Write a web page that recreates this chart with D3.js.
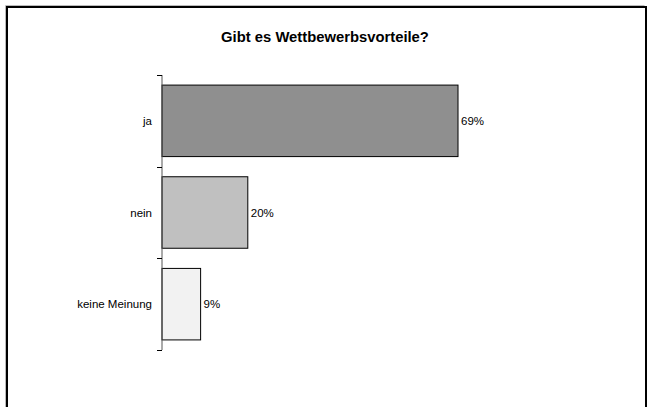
<!DOCTYPE html>
<html><head><meta charset="utf-8">
<script src="https://cdn.jsdelivr.net/npm/d3@7"></script>
<style>body{margin:0;background:#fff}svg{display:block;font-family:"Liberation Sans",Arial,sans-serif}</style>
</head><body>
<script>
const categories = ["ja", "nein", "keine Meinung"];
const values = [69, 20, 9];
const labels = ["69%", "20%", "9%"];
const colors = ["#8f8f8f", "#c0c0c0", "#f2f2f2"];
const title = "Gibt es Wettbewerbsvorteile?";

const W = 649, H = 407;
const svg = d3.select("body").append("svg").attr("width", W).attr("height", H);

// frame
svg.append("path").attr("d", `M7,${H+5}V7H646V${H+5}`).attr("fill","none").attr("stroke","#000").attr("stroke-width",2);
svg.append("path").attr("d", `M5.5,${H+5}V5.5H644.5`).attr("fill","none").attr("stroke","#bbb").attr("stroke-width",1);

svg.append("text").attr("x", 325).attr("y", 42).attr("text-anchor","middle")
  .attr("font-size", 14.8).attr("font-weight","bold").text(title);

const x = d3.scaleLinear().domain([0, 100]).range([162, 591]);
const y = d3.scaleBand().domain(categories).range([75, 350]).paddingInner(0.22).paddingOuter(0.11);

svg.selectAll("rect.bar").data(categories).join("rect").attr("class","bar")
  .attr("x", x(0)).attr("y", d => y(d))
  .attr("width", (d,i) => x(values[i]) - x(0)).attr("height", y.bandwidth())
  .attr("fill", (d,i) => colors[i]).attr("stroke", "#000").attr("stroke-width", 1);

svg.selectAll("text.val").data(categories).join("text").attr("class","val")
  .attr("x", (d,i) => x(values[i]) + 3).attr("y", d => y(d) + y.bandwidth()/2 + 4)
  .attr("font-size", 11.5).text((d,i) => labels[i]);

// axis
const ticks = d3.range(categories.length + 1).map(i => 75 + i * (350 - 75) / categories.length);
svg.append("line").attr("x1", 162).attr("x2", 162).attr("y1", 75).attr("y2", 350).attr("stroke", "#555").attr("stroke-width", 1);
svg.selectAll("line.tick").data(ticks).join("line").attr("class","tick")
  .attr("x1", 157).attr("x2", 162).attr("y1", d => Math.round(d)+0.5).attr("y2", d => Math.round(d)+0.5)
  .attr("stroke", "#000");
svg.selectAll("text.cat").data(categories).join("text").attr("class","cat")
  .attr("x", 152).attr("y", d => y(d) + y.bandwidth()/2 + 4).attr("text-anchor","end")
  .attr("font-size", 11.5).text(d => d);
</script>
</body></html>
